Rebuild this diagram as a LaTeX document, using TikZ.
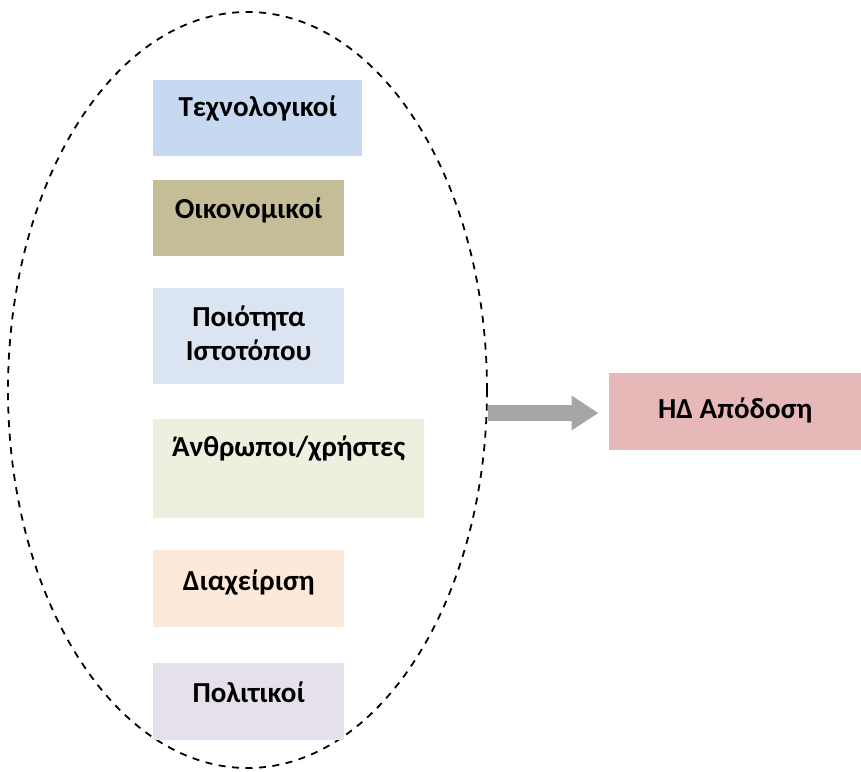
\documentclass[tikz,border=0pt]{standalone}
\usepackage{fontspec}
\setmainfont{Carlito}
\usetikzlibrary{shapes.geometric,arrows.meta}
\definecolor{cTech}{HTML}{C6D9F1}
\definecolor{cEcon}{HTML}{C4BD97}
\definecolor{cQual}{HTML}{DBE5F1}
\definecolor{cPeop}{HTML}{EBF1DE}
\definecolor{cMgmt}{HTML}{FDE9D9}
\definecolor{cPoli}{HTML}{E5E0EC}
\definecolor{cPerf}{HTML}{E6B9B8}
\definecolor{cArrow}{HTML}{A6A6A6}
\tikzset{
  factorbox/.style={rectangle, draw=none, inner sep=0pt, anchor=north west},
  boxlabel/.style={anchor=base, inner sep=0pt, align=center,
    font=\fontsize{29}{33.3}\selectfont\bfseries},
  groupoval/.style={ellipse, draw=black, line width=1.8pt,
    dash pattern=on 7pt off 6.5pt, inner sep=0pt},
  bigarrow/.style={draw=cArrow, line width=16pt,
    -{Triangle[length=27pt,width=33pt]}, shorten >=10pt}
}
\begin{document}
\begin{tikzpicture}[x=1pt,y=-1pt]
\useasboundingbox (0,0) rectangle (861,771);

% dashed ellipse grouping the factors
\node[groupoval, minimum width=479pt, minimum height=756pt] (group) at (247.5,390) {};

% factor boxes
\node[factorbox, fill=cTech, minimum width=209pt, minimum height=76pt] (tech) at (153,79.5) {};
\node[factorbox, fill=cEcon, minimum width=191pt, minimum height=76.5pt] (econ) at (153,179.3) {};
\node[factorbox, fill=cQual, minimum width=191pt, minimum height=96.5pt] (qual) at (153,287.5) {};
\node[factorbox, fill=cPeop, minimum width=271pt, minimum height=98.5pt] (peop) at (153,419) {};
\node[factorbox, fill=cMgmt, minimum width=191pt, minimum height=76.5pt] (mgmt) at (153,550) {};
\node[factorbox, fill=cPoli, minimum width=191pt, minimum height=76.5pt] (poli) at (153,662.8) {};

% result box
\node[factorbox, fill=cPerf, minimum width=253pt, minimum height=76.5pt] (perf) at (608.5,372.8) {};

% labels
\node[boxlabel] (techL) at (tech.north |- 0,116.7) {Τεχνολογικοί};
\node[boxlabel] (econL) at (econ.north |- 0,218.3) {Οικονομικοί};
\node[boxlabel] (qualL) at (qual.north |- 0,326.7) {Ποιότητα};
\node[boxlabel] (qualL2) at (qual.north |- 0,360) {Ιστοτόπου};
\node[boxlabel] (peopL) at (peop.north |- 0,456.7) {Άνθρωποι/χρήστες};
\node[boxlabel] (mgmtL) at (mgmt.north |- 0,590) {Διαχείριση};
\node[boxlabel] (poliL) at (poli.north |- 0,702.3) {Πολιτικοί};
\node[boxlabel] (perfL) at (perf.north |- 0,418.3) {ΗΔ Απόδοση};

% arrow from the group to the result
\draw[bigarrow] (group.east |- 0,413) -- (perf.west |- 0,413);
\end{tikzpicture}
\end{document}
